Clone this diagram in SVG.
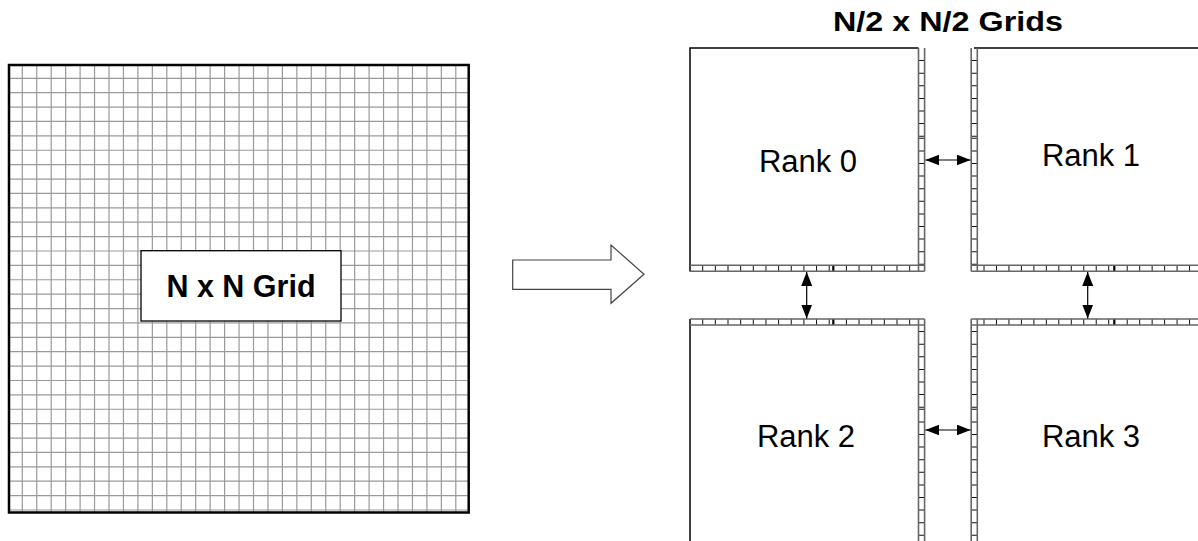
<svg xmlns="http://www.w3.org/2000/svg" width="1198" height="541" viewBox="0 0 1198 541">
<style>
.gl{fill:none;stroke:#9a9a9a;stroke-width:1.2}
.frame{fill:none;stroke:#000;stroke-width:2.5}
.box{fill:#fff;stroke:#000;stroke-width:1.3}
.edge{fill:none;stroke:#000;stroke-width:1.5}
.rail{fill:none;stroke:#666;stroke-width:1.6}
.tv{fill:none;stroke:#111;stroke-width:6;stroke-dasharray:1 11.6}
.th{fill:none;stroke:#111;stroke-width:6;stroke-dasharray:1 11.65}
.th2{fill:none;stroke:#111;stroke-width:6;stroke-dasharray:1 11.47}
.join{fill:none;stroke:#000;stroke-width:2.2}
.lbl{font-family:"Liberation Sans",Arial,sans-serif;font-size:31px;fill:#000;text-anchor:middle}
.bold{font-family:"Liberation Sans",Arial,sans-serif;font-weight:bold;fill:#000}
.conn{fill:none;stroke:#000;stroke-width:1.2;marker-start:url(#ah);marker-end:url(#ah)}
</style>
<defs>
<marker id="ah" markerUnits="userSpaceOnUse" markerWidth="15" markerHeight="12" refX="14" refY="5.5" orient="auto-start-reverse">
<path d="M0,0 L14,5.5 L0,11 Z" fill="#000"/>
</marker>
</defs>

<g id="big-grid">
<rect x="9" y="65" width="459.7" height="447.5" fill="#fff"/>
<path class="gl" d="M22.3 65V512.5M36.75 65V512.5M51.2 65V512.5M65.65 65V512.5M80.1 65V512.5M94.55 65V512.5M109 65V512.5M123.45 65V512.5M137.9 65V512.5M152.35 65V512.5M166.8 65V512.5M181.25 65V512.5M195.7 65V512.5M210.15 65V512.5M224.6 65V512.5M239.05 65V512.5M253.5 65V512.5M267.95 65V512.5M282.4 65V512.5M296.85 65V512.5M311.3 65V512.5M325.75 65V512.5M340.2 65V512.5M354.65 65V512.5M369.1 65V512.5M383.55 65V512.5M398 65V512.5M412.45 65V512.5M426.9 65V512.5M441.35 65V512.5M455.8 65V512.5
M9 78.3H468.7M9 92.69H468.7M9 107.08H468.7M9 121.47H468.7M9 135.86H468.7M9 150.25H468.7M9 164.64H468.7M9 179.03H468.7M9 193.42H468.7M9 207.81H468.7M9 222.2H468.7M9 236.59H468.7M9 250.98H468.7M9 265.37H468.7M9 279.76H468.7M9 294.15H468.7M9 308.54H468.7M9 322.93H468.7M9 337.32H468.7M9 351.71H468.7M9 366.1H468.7M9 380.49H468.7M9 394.88H468.7M9 409.27H468.7M9 423.66H468.7M9 438.05H468.7M9 452.44H468.7M9 466.83H468.7M9 481.22H468.7M9 495.61H468.7M9 510H468.7"/>
<rect class="frame" x="9" y="65" width="459.7" height="447.5"/>
</g>

<g id="grid-label">
<rect class="box" x="141" y="250.7" width="200" height="70.3"/>
<text class="bold" x="241" y="296.7" font-size="30.5" text-anchor="middle">N x N Grid</text>
</g>

<g id="big-arrow">
<polygon points="512.7,260 611,260 611,245 644,274.3 611,303.3 611,289.3 512.7,289.3" fill="#fff" stroke="#444" stroke-width="1.2"/>
</g>

<g id="title">
<text class="bold" x="833" y="30.7" font-size="27" textLength="230" lengthAdjust="spacingAndGlyphs">N/2 x N/2 Grids</text>
</g>

<g id="rank0">
<path class="edge" d="M918.5 48H690V271.5"/>
<line class="tv" x1="921.6" y1="60.1" x2="921.6" y2="137"/>
<line class="tv" x1="921.6" y1="137.8" x2="921.6" y2="265"/>
<line class="th" x1="702.2" y1="268.3" x2="830" y2="268.3"/>
<line class="join" x1="833.3" y1="265.3" x2="833.3" y2="271.3"/>
<line class="th" x1="845.9" y1="268.3" x2="918" y2="268.3"/>
<path class="rail" d="M918.5 48V271.3M924.6 48V271.3M690 265.3H924.6M690 271.3H924.6"/>
<text class="lbl" x="808" y="172.3">Rank 0</text>
</g>

<g id="rank1">
<path class="edge" d="M974 48H1198"/>
<line class="tv" x1="974.2" y1="60.1" x2="974.2" y2="137"/>
<line class="tv" x1="974.2" y1="137.8" x2="974.2" y2="265"/>
<line class="th2" x1="983.5" y1="268.3" x2="1110" y2="268.3"/>
<line class="join" x1="1114.3" y1="265.3" x2="1114.3" y2="271.3"/>
<line class="th2" x1="1126.7" y1="268.3" x2="1198" y2="268.3"/>
<path class="rail" d="M971.2 48V271.3M977.3 48V271.3M971.2 265.3H1198M971.2 271.3H1198"/>
<text class="lbl" x="1091" y="166">Rank 1</text>
</g>

<g id="rank2">
<path class="edge" d="M690 319V541"/>
<line class="th" x1="702.2" y1="322" x2="830" y2="322"/>
<line class="join" x1="833.3" y1="319" x2="833.3" y2="325"/>
<line class="th" x1="845.9" y1="322" x2="918" y2="322"/>
<line class="tv" x1="921.6" y1="331.1" x2="921.6" y2="408"/>
<line class="tv" x1="921.6" y1="408.8" x2="921.6" y2="541"/>
<path class="rail" d="M690 319H924.6M690 325H924.6M918.5 319V541M924.6 319V541"/>
<text class="lbl" x="806" y="447">Rank 2</text>
</g>

<g id="rank3">
<line class="th2" x1="983.5" y1="322" x2="1110" y2="322"/>
<line class="join" x1="1114.3" y1="319" x2="1114.3" y2="325"/>
<line class="th2" x1="1126.7" y1="322" x2="1198" y2="322"/>
<line class="tv" x1="974.2" y1="331.1" x2="974.2" y2="408"/>
<line class="tv" x1="974.2" y1="408.8" x2="974.2" y2="541"/>
<path class="rail" d="M971.2 319H1198M971.2 325H1198M971.2 319V541M977.3 319V541"/>
<text class="lbl" x="1091" y="447">Rank 3</text>
</g>

<g id="connectors">
<line class="conn" x1="925.4" y1="160" x2="970.6" y2="160"/>
<line class="conn" x1="925.4" y1="430" x2="970.6" y2="430"/>
<line class="conn" x1="806.7" y1="272" x2="806.7" y2="318.5"/>
<line class="conn" x1="1087.7" y1="272" x2="1087.7" y2="318.5"/>
</g>
</svg>
